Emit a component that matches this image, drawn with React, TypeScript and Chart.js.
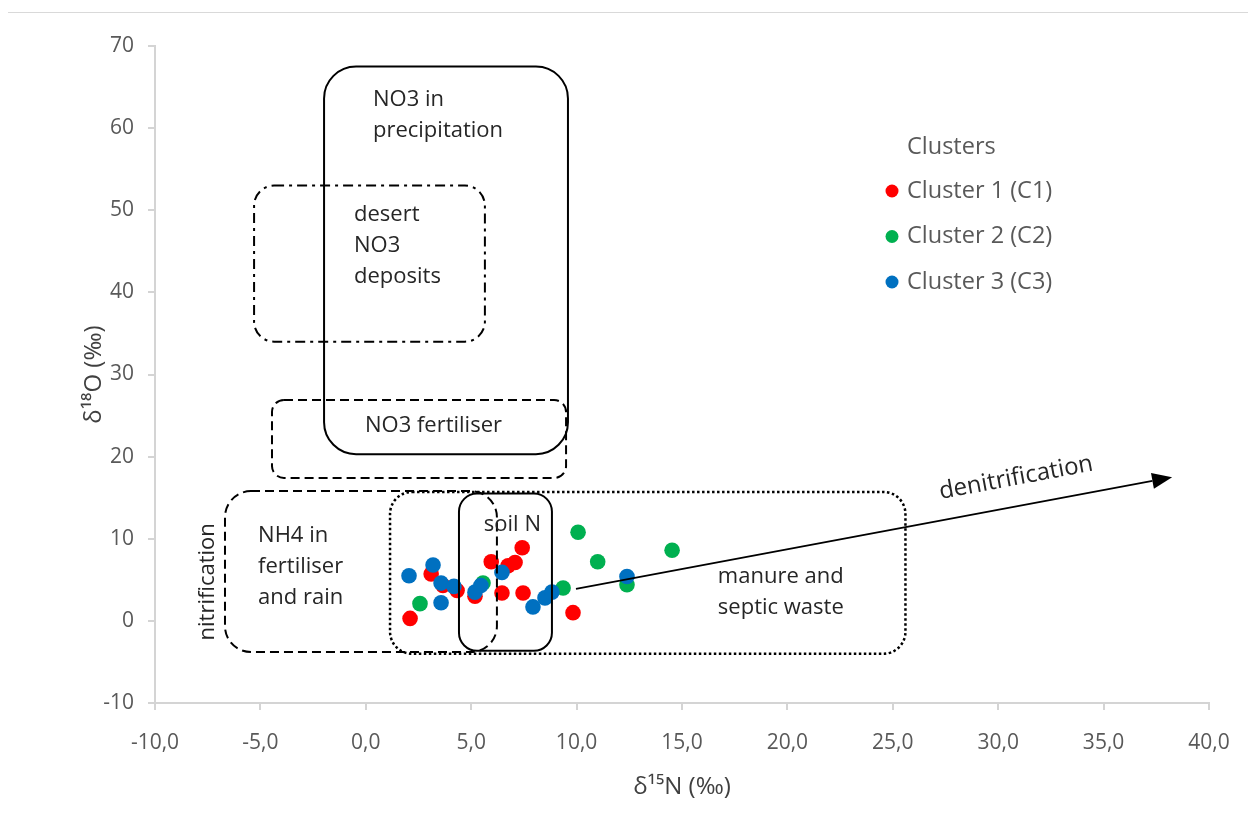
import React, { useEffect, useRef } from 'react';
import { Chart, registerables } from 'chart.js';

Chart.register(...registerables);

// ---- data ----
const seriesLabels = ['Cluster 1 (C1)', 'Cluster 2 (C2)', 'Cluster 3 (C3)'];
const seriesColors = ['#ff0000', '#00b050', '#0070c0'];

const cluster1N = [2.1, 3.1, 3.66, 4.33, 5.18, 5.95, 6.46, 6.75, 7.08, 7.42, 7.46, 9.83];
const cluster1O = [0.3, 5.7, 4.3, 3.7, 3.0, 7.2, 3.4, 6.7, 7.1, 8.9, 3.4, 1.0];

const cluster2N = [2.57, 5.56, 9.36, 10.07, 11.0, 12.39, 14.53];
const cluster2O = [2.1, 4.6, 4.0, 10.8, 7.2, 4.4, 8.6];

const cluster3N = [2.05, 3.19, 3.57, 3.57, 4.18, 5.18, 5.46, 6.46, 7.93, 8.5, 8.83, 12.39];
const cluster3O = [5.5, 6.8, 4.6, 2.2, 4.2, 3.5, 4.3, 5.9, 1.7, 2.8, 3.5, 5.4];

const xTickValues = [-10, -5, 0, 5, 10, 15, 20, 25, 30, 35, 40];
const yTickValues = [-10, 0, 10, 20, 30, 40, 50, 60, 70];

// source regions (data coordinates: x = d15N, y = d18O)
const regionNames = ['precip', 'desert', 'fert', 'nh4', 'manure', 'soil'];
const regionX1 = [-1.98, -5.3, -4.45, -6.68, 1.15, 4.42];
const regionX2 = [9.59, 5.65, 9.5, 6.22, 25.6, 8.83];
const regionY1 = [20.3, 34.0, 17.4, -3.8, -4.0, -3.65];
const regionY2 = [67.5, 53.0, 26.9, 15.8, 15.7, 15.5];

// region labels
const labelLines = [
  ['NO3 in', 'precipitation'],
  ['desert', 'NO3', 'deposits'],
  ['NO3 fertiliser'],
  ['NH4 in', 'fertiliser', 'and rain'],
  ['manure and', 'septic waste'],
  ['soil N'],
];
const labelX = [0.34, -0.56, -0.04, -5.11, 16.7, 5.6];
const labelY = [63.6, 49.6, 23.9, 10.5, 5.5, 11.8];

// denitrification arrow
const arrowFrom = [9.97, 3.9];
const arrowTo = [38.25, 17.5];

function makePoints(xs: number[], ys: number[]) {
  return xs.map((x, i) => ({ x, y: ys[i] }));
}

// styles (kept apart from data)
const regionStyles: Record<string, { dash: number[]; width: number; radius: number }> = {
  precip: { dash: [], width: 2, radius: 32 },
  desert: { dash: [10, 5, 3, 5], width: 2, radius: 20 },
  fert: { dash: [9, 5], width: 2, radius: 12 },
  nh4: { dash: [9, 5], width: 2, radius: 26 },
  manure: { dash: [2.5, 2.5], width: 2.5, radius: 22 },
  soil: { dash: [], width: 2, radius: 18 },
};

const ANN_FONT = '22px "Open Sans", Lato, sans-serif';
const TEXT_DARK = '#262626';
const GREY = '#595959';

function roundRect(ctx: CanvasRenderingContext2D, x: number, y: number, w: number, h: number, r: number) {
  const rr = Math.min(r, w / 2, h / 2);
  ctx.beginPath();
  ctx.moveTo(x + rr, y);
  ctx.lineTo(x + w - rr, y);
  ctx.arcTo(x + w, y, x + w, y + rr, rr);
  ctx.lineTo(x + w, y + h - rr);
  ctx.arcTo(x + w, y + h, x + w - rr, y + h, rr);
  ctx.lineTo(x + rr, y + h);
  ctx.arcTo(x, y + h, x, y + h - rr, rr);
  ctx.lineTo(x, y + rr);
  ctx.arcTo(x, y, x + rr, y, rr);
  ctx.closePath();
}

const annotationPlugin = {
  id: 'sourceRegions',
  afterDatasetsDraw(chart: any) {
    const ctx: CanvasRenderingContext2D = chart.ctx;
    const xs = chart.scales.x;
    const ys = chart.scales.y;
    ctx.save();
    // boxes
    regionNames.forEach((name, i) => {
      const st = regionStyles[name];
      const px1 = xs.getPixelForValue(regionX1[i]);
      const px2 = xs.getPixelForValue(regionX2[i]);
      const py1 = ys.getPixelForValue(regionY2[i]);
      const py2 = ys.getPixelForValue(regionY1[i]);
      ctx.setLineDash(st.dash);
      ctx.lineWidth = st.width;
      ctx.strokeStyle = '#000000';
      roundRect(ctx, px1, py1, px2 - px1, py2 - py1, st.radius);
      ctx.stroke();
    });
    ctx.setLineDash([]);
    // labels
    ctx.font = ANN_FONT;
    ctx.fillStyle = TEXT_DARK;
    ctx.textAlign = 'left';
    ctx.textBaseline = 'middle';
    labelLines.forEach((lines, i) => {
      const px = xs.getPixelForValue(labelX[i]);
      const py = ys.getPixelForValue(labelY[i]);
      lines.forEach((t, j) => ctx.fillText(t, px, py + 1 + j * 31));
    });
    // nitrification (vertical)
    ctx.save();
    ctx.font = '22px "Open Sans", Lato, sans-serif';
    ctx.translate(xs.getPixelForValue(-7.49), ys.getPixelForValue(4.75));
    ctx.rotate(-Math.PI / 2);
    ctx.textAlign = 'center';
    ctx.fillText('nitrification', 0, 0);
    ctx.restore();
    // arrow
    const ax1 = xs.getPixelForValue(arrowFrom[0]);
    const ay1 = ys.getPixelForValue(arrowFrom[1]);
    const ax2 = xs.getPixelForValue(arrowTo[0]);
    const ay2 = ys.getPixelForValue(arrowTo[1]);
    const ang = Math.atan2(ay2 - ay1, ax2 - ax1);
    const headLen = 20;
    const headHalf = 8;
    const bx = ax2 - headLen * Math.cos(ang);
    const by = ay2 - headLen * Math.sin(ang);
    ctx.strokeStyle = '#000';
    ctx.lineWidth = 1.6;
    ctx.beginPath();
    ctx.moveTo(ax1, ay1);
    ctx.lineTo(bx, by);
    ctx.stroke();
    ctx.fillStyle = '#000';
    ctx.beginPath();
    ctx.moveTo(ax2, ay2);
    ctx.lineTo(bx + headHalf * Math.sin(ang), by - headHalf * Math.cos(ang));
    ctx.lineTo(bx - headHalf * Math.sin(ang), by + headHalf * Math.cos(ang));
    ctx.closePath();
    ctx.fill();
    // denitrification text along arrow
    ctx.save();
    ctx.font = '24px "Open Sans", Lato, sans-serif';
    ctx.translate(xs.getPixelForValue(30.85), ys.getPixelForValue(17.4));
    ctx.rotate(ang);
    ctx.textAlign = 'center';
    ctx.fillStyle = TEXT_DARK;
    ctx.fillText('denitrification', 0, 0);
    ctx.restore();
    ctx.restore();
  },
};

const legendPlugin = {
  id: 'insideLegend',
  afterDraw(chart: any) {
    const ctx: CanvasRenderingContext2D = chart.ctx;
    const area = chart.chartArea;
    const textX = area.right - 302;
    const dotX = textX - 15;
    ctx.save();
    ctx.font = '23.5px "Open Sans", Lato, sans-serif';
    ctx.textAlign = 'left';
    ctx.textBaseline = 'middle';
    ctx.fillStyle = GREY;
    ctx.fillText('Clusters', textX, area.top + 101);
    chart.data.datasets.forEach((ds: any, i: number) => {
      const y = area.top + 145 + i * 45.5;
      ctx.fillStyle = ds.backgroundColor;
      ctx.beginPath();
      ctx.arc(dotX, y, 6.5, 0, Math.PI * 2);
      ctx.fill();
      ctx.fillStyle = GREY;
      ctx.fillText(ds.label, textX, y);
    });
    ctx.restore();
  },
};

export default function App() {
  const canvasRef = useRef<HTMLCanvasElement | null>(null);

  useEffect(() => {
    if (!canvasRef.current) return;
    const xsData = [cluster1N, cluster2N, cluster3N];
    const ysData = [cluster1O, cluster2O, cluster3O];
    const chart = new Chart(canvasRef.current, {
      type: 'scatter',
      data: {
        datasets: seriesLabels.map((label, i) => ({
          label,
          data: makePoints(xsData[i], ysData[i]),
          backgroundColor: seriesColors[i],
          borderColor: seriesColors[i],
          borderWidth: 0,
          pointRadius: 7.8,
          pointHoverRadius: 7.8,
          order: 2 - i,
        })),
      },
      options: {
        animation: false,
        responsive: false,
        layout: { padding: { left: 47, right: 47, top: 33, bottom: 13 } },
        plugins: {
          legend: { display: false },
          tooltip: { enabled: false },
        },
        scales: {
          x: {
            type: 'linear',
            min: -10,
            max: 40,
            afterBuildTicks: (scale: any) => {
              scale.ticks = xTickValues.map((v) => ({ value: v }));
            },
            afterFit: (scale: any) => {
              scale.height = 120;
            },
            ticks: {
              color: GREY,
              font: { family: '"Open Sans", Lato, sans-serif', size: 21 },
              padding: 20,
              maxRotation: 0,
              callback: (v: any) => Number(v).toFixed(1).replace('.', ','),
            },
            grid: { drawOnChartArea: false, drawTicks: true, tickLength: 7, color: '#d4d4d4', lineWidth: 2 },
            border: { color: '#d4d4d4', width: 2 },
            title: {
              display: true,
              text: 'δ¹⁵N (‰)',
              color: '#404040',
              font: { family: '"Open Sans", Lato, sans-serif', size: 24 },
              padding: { top: 0, bottom: 21 },
            },
          },
          y: {
            type: 'linear',
            min: -10,
            max: 70,
            afterBuildTicks: (scale: any) => {
              scale.ticks = yTickValues.map((v) => ({ value: v }));
            },
            afterFit: (scale: any) => {
              scale.width = 100;
            },
            ticks: {
              color: GREY,
              font: { family: '"Open Sans", Lato, sans-serif', size: 21 },
              padding: 14,
            },
            grid: { drawOnChartArea: false, drawTicks: true, tickLength: 7, color: '#d4d4d4', lineWidth: 2 },
            border: { color: '#d4d4d4', width: 2 },
            title: {
              display: true,
              text: 'δ¹⁸O (‰)',
              color: '#404040',
              font: { family: '"Open Sans", Lato, sans-serif', size: 24 },
              padding: { top: 25, bottom: 0 },
            },
          },
        },
      },
      plugins: [annotationPlugin, legendPlugin],
    } as any);
    return () => chart.destroy();
  }, []);

  return (
    <div
      style={{
        marginTop: 4,
        marginLeft: -1,
        width: 1249,
        height: 824,
        boxSizing: 'border-box',
        borderTop: '1px solid #d9d9d9',
        borderLeft: '1px solid #d9d9d9',
        background: '#ffffff',
        overflow: 'hidden',
      }}
    >
      <canvas ref={canvasRef} width={1248} height={823} style={{ display: 'block' }} />
    </div>
  );
}
